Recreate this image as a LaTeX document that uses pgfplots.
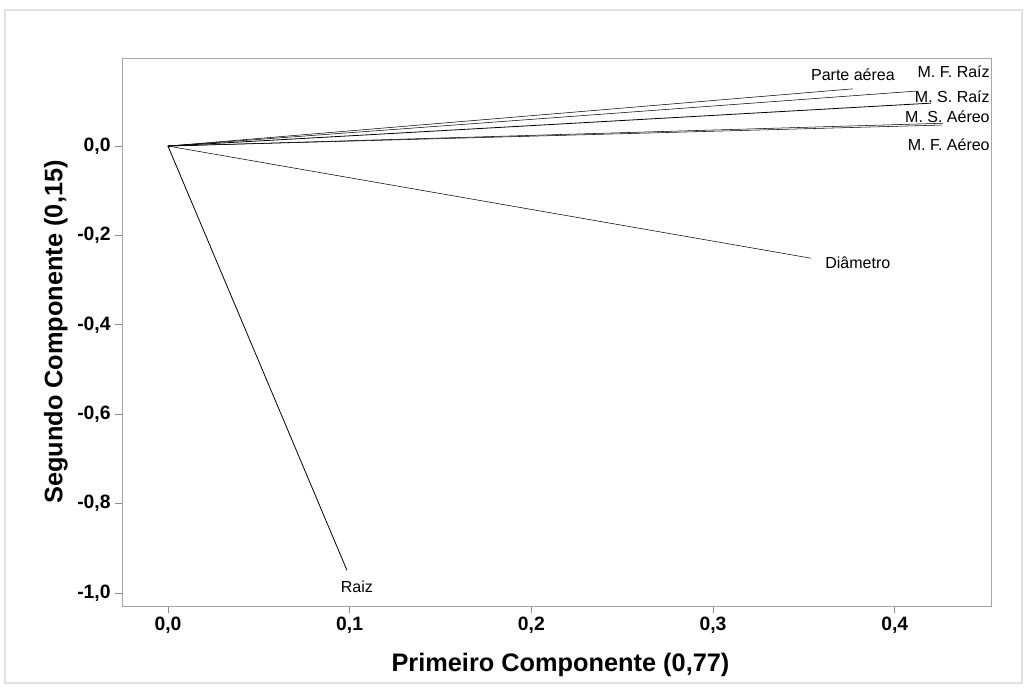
\documentclass[border=0pt]{standalone}
\usepackage{pgfplots}
\pgfplotsset{compat=1.18}
\usepackage{fontspec}
\setmainfont{Liberation Sans}
\begin{document}
\begin{tikzpicture}[x=0.75pt,y=0.75pt]
% page extent and the light outer frame
\useasboundingbox (-122,-82) rectangle (905,606);
\draw[black!12,line width=0.8pt] (-117,-77) rectangle (900,596);
\begin{axis}[
  at={(0,0)}, anchor=south west,
  scale only axis, width=651.75pt, height=411pt,
  xmin=-0.0253, xmax=0.453, ymin=-1.029, ymax=0.197,
  axis line style={black!35, line width=0.6pt},
  tick style={black!45, line width=0.6pt},
  tick align=outside, major tick length=5pt,
  xtick={0,0.1,0.2,0.3,0.4},
  ytick={-1,-0.8,-0.6,-0.4,-0.2,0},
  xtick pos=bottom, ytick pos=left,
  /pgf/number format/assume math mode=true,
  /pgf/number format/.cd, use comma, fixed, fixed zerofill, precision=1,
  /pgfplots/.cd,
  ticklabel style={font=\fontsize{14.5}{16}\selectfont\bfseries},
  xlabel={Primeiro Componente (0,77)},
  ylabel={Segundo Componente (0,15)},
  label style={font=\fontsize{19}{21}\selectfont\bfseries},
  xlabel style={at={(rel axis cs:0.5,0)}, anchor=center, yshift=-44pt, xshift=3pt},
  ylabel style={at={(rel axis cs:0,0.5)}, anchor=center, yshift=49.5pt},
  cycle list={{black, solid, line width=0.6pt, mark=none}},
  clip=false,
]
\addplot coordinates {(0,0) (0.377,0.128)};   % Parte aérea
\addplot coordinates {(0,0) (0.412,0.123)};   % M. F. Raíz
\addplot coordinates {(0,0) (0.420,0.096)};   % M. S. Raíz
\addplot coordinates {(0,0) (0.4266,0.051)};  % M. S. Aéreo
\addplot coordinates {(0,0) (0.426,0.047)};   % M. F. Aéreo
\addplot coordinates {(0,0) (0.354,-0.251)};  % Diâmetro
\addplot coordinates {(0,0) (0.0985,-0.949)}; % Raiz
\begin{scope}[every node/.style={font=\fontsize{12}{14}\selectfont, inner sep=0pt}]
\node at (axis cs:0.377,0.159) {Parte aérea};
\node[anchor=east] at (axis cs:0.4524,0.1655) {M. F. Raíz};
\node[anchor=east] at (axis cs:0.4524,0.110) {M. S. Raíz};
\node[anchor=east] at (axis cs:0.4524,0.065) {M. S. Aéreo};
\node[anchor=east] at (axis cs:0.4524,0.002) {M. F. Aéreo};
\node at (axis cs:0.3797,-0.262) {Diâmetro};
\node at (axis cs:0.104,-0.987) {Raiz};
\end{scope}
\end{axis}
\end{tikzpicture}
\end{document}
